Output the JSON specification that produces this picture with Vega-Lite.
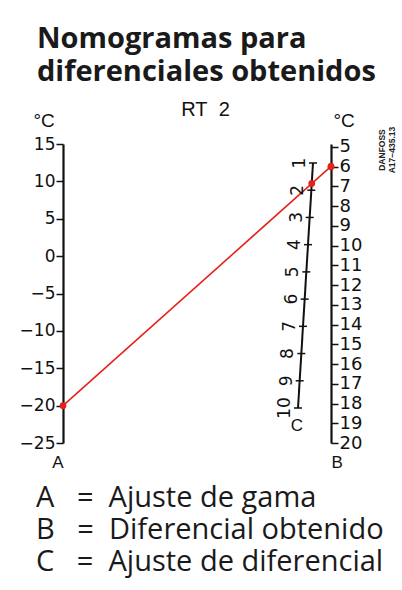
{
  "$schema": "https://vega.github.io/schema/vega-lite/v6.json",
  "width": 268,
  "height": 299,
  "autosize": "none",
  "padding": {"left": 63, "top": 144, "right": 71, "bottom": 147},
  "background": "white",
  "config": {
    "view": {"stroke": null},
    "font": "Liberation Sans",
    "axis": {"grid": false, "labelOverlap": false, "domainColor": "#111111", "tickColor": "#111111", "labelColor": "#111111", "titleColor": "#111111", "titleFontWeight": "normal"}
  },
  "title": {
    "text": ["Nomogramas para", "diferenciales obtenidos"],
    "anchor": "start",
    "frame": "group",
    "dx": -26,
    "font": "Open Sans",
    "fontSize": 29,
    "fontWeight": "bold",
    "color": "#1a1a1a",
    "lineHeight": 33,
    "offset": 12
  },
  "datasets": {
    "linea_roja": [{"pos": 0, "nivel": -20}, {"pos": 1, "nivel": 12.0}],
    "puntos_b": [{"eje": "B", "pos": 1, "valor": 6}],
    "puntos_c": [{"eje": "C", "valor": 1.75}],
    "escala_c": [{"c": 1}, {"c": 2}, {"c": 3}, {"c": 4}, {"c": 5}, {"c": 6}, {"c": 7}, {"c": 8}, {"c": 9}, {"c": 10}],
    "eje_c": [{"inicio": 1, "fin": 10}],
    "nota": [{"texto": ["DANFOSS", "A17\u2212435.13"], "c": 1}]
  },
  "layer": [
    {
      "data": {"name": "linea_roja"},
      "mark": {"type": "line", "color": "#e3231b", "strokeWidth": 1.6, "point": {"filled": true, "size": 45, "color": "#e3231b", "opacity": 1}},
      "encoding": {
        "x": {"field": "pos", "type": "quantitative", "scale": {"domain": [0, 1], "nice": false},
          "axis": {"orient": "bottom", "values": [0, 1], "labelExpr": "datum.value == 0 ? 'A' : 'B'", "labelAlign": {"expr": "datum.value == 0 ? 'right' : 'left'"}, "ticks": false, "domain": false, "title": null, "labelFont": "Liberation Sans", "labelFontSize": 17, "labelPadding": 11, "labelFlush": false, "labelOverlap": false}},
        "y": {"field": "nivel", "type": "quantitative", "scale": {"domain": [-25, 15], "nice": false, "zero": false},
          "axis": {"values": [-25, -20, -15, -10, -5, 0, 5, 10, 15], "title": "\u00b0C", "titleAngle": 0, "titleX": -30, "titleY": -18, "titleAlign": "left", "titleBaseline": "alphabetic", "titleFont": "Liberation Sans", "titleFontSize": 19, "labelFont": "DejaVu Sans", "labelFontSize": 17, "labelPadding": 1, "tickSize": 7, "tickWidth": 1.5, "domainWidth": 2.2, "labelFlush": false, "labelOverlap": false}}
      }
    },
    {
      "data": {"name": "puntos_b"},
      "mark": {"type": "point", "filled": true, "size": 45, "opacity": 1},
      "encoding": {
        "x": {"field": "pos", "type": "quantitative", "scale": {"domain": [0, 1], "nice": false},
          "axis": {"orient": "top", "title": "RT\u00a0\u00a02", "labels": false, "ticks": false, "domain": false, "titleFont": "Liberation Sans", "titleFontSize": 20, "titleX": 142, "titleY": -29, "titleAlign": "center", "titleBaseline": "alphabetic"}},
        "y": {"field": "valor", "type": "quantitative", "scale": {"domain": [4.85, 20], "reverse": true, "nice": false, "zero": false},
          "axis": {"orient": "right", "values": [5, 6, 7, 8, 9, 10, 11, 12, 13, 14, 15, 16, 17, 18, 19, 20], "title": "\u00b0C", "titleAngle": 0, "titleX": 2, "titleY": -18, "titleAlign": "left", "titleBaseline": "alphabetic", "titleFont": "Liberation Sans", "titleFontSize": 19, "labelFont": "DejaVu Sans", "labelFontSize": 18, "labelPadding": 1, "tickSize": 7, "tickWidth": 1.5, "domainWidth": 2.2, "labelFlush": false, "labelOverlap": false}},
        "color": {"field": "eje", "type": "nominal",
          "scale": {"domain": ["A", "B", "C"], "range": ["#e3231b", "#e3231b", "#e3231b"]},
          "legend": {"orient": "none", "legendX": -56, "legendY": 339, "direction": "vertical", "title": null,
            "symbolSize": 0, "symbolStrokeWidth": 0, "symbolOpacity": 0, "labelOffset": 0,
            "labelFont": "Open Sans", "labelFontSize": 29, "labelColor": "#1a1a1a", "labelLimit": 500, "rowPadding": 2,
            "labelExpr": "datum.label == 'A' ? 'A\u00a0\u00a0\u00a0=\u00a0\u00a0Ajuste de gama' : datum.label == 'B' ? 'B\u00a0\u00a0\u00a0=\u00a0\u00a0Diferencial obtenido' : 'C\u00a0\u00a0\u00a0=\u00a0\u00a0Ajuste de diferencial'"}}
      }
    },
    {
      "layer": [
        {
          "data": {"name": "eje_c"},
          "mark": {"type": "rule", "color": "#111111", "strokeWidth": 2},
          "encoding": {
            "x": {"field": "inicio", "type": "quantitative", "scale": {"domain": [1, 10], "range": [250, 235], "nice": false, "zero": false}, "axis": null},
            "x2": {"field": "fin"},
            "y": {"field": "inicio", "type": "quantitative", "scale": {"domain": [1, 10], "range": [19, 264], "nice": false, "zero": false}, "axis": null},
            "y2": {"field": "fin"}
          }
        },
        {
          "data": {"name": "escala_c"},
          "mark": {"type": "tick", "orient": "horizontal", "size": 8, "thickness": 1.5, "color": "#111111", "opacity": 1},
          "encoding": {
            "x": {"field": "c", "type": "quantitative", "axis": null},
            "y": {"field": "c", "type": "quantitative", "axis": null}
          }
        },
        {
          "data": {"name": "escala_c"},
          "mark": {"type": "text", "angle": 270, "font": "DejaVu Sans", "fontSize": 17, "align": "center", "baseline": "bottom", "dy": -4, "color": "#111111"},
          "encoding": {
            "x": {"field": "c", "type": "quantitative", "axis": null},
            "y": {"field": "c", "type": "quantitative", "axis": null},
            "text": {"field": "c", "type": "quantitative"}
          }
        },
        {
          "data": {"values": [{"rotulo": "C", "c": 10}]},
          "mark": {"type": "text", "font": "Liberation Sans", "fontSize": 17, "align": "center", "baseline": "middle", "dy": 18, "dx": -1, "color": "#111111"},
          "encoding": {
            "x": {"field": "c", "type": "quantitative", "axis": null},
            "y": {"field": "c", "type": "quantitative", "axis": null},
            "text": {"field": "rotulo"}
          }
        },
        {
          "data": {"name": "nota"},
          "mark": {"type": "text", "angle": 270, "font": "Liberation Sans", "fontSize": 8.5, "fontWeight": "bold", "align": "center", "baseline": "middle", "dx": 13, "dy": 69, "lineHeight": 10, "color": "#222222"},
          "encoding": {
            "x": {"field": "c", "type": "quantitative", "axis": null},
            "y": {"field": "c", "type": "quantitative", "axis": null},
            "text": {"field": "texto"}
          }
        },
        {
          "data": {"name": "puntos_c"},
          "mark": {"type": "point", "filled": true, "size": 45, "opacity": 1},
          "encoding": {
            "x": {"field": "valor", "type": "quantitative", "axis": null},
            "y": {"field": "valor", "type": "quantitative", "axis": null},
            "color": {"field": "eje", "type": "nominal"}
          }
        }
      ]
    }
  ],
  "resolve": {"scale": {"x": "independent", "y": "independent"}}
}
